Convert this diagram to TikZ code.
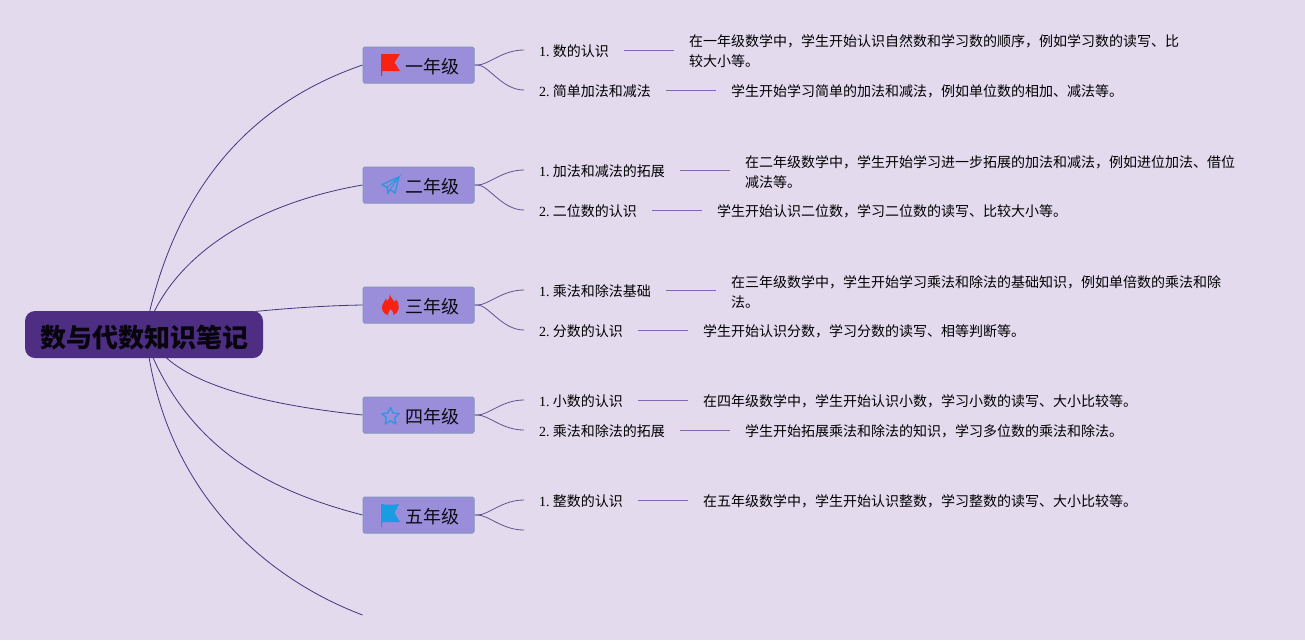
\documentclass[tikz,border=0pt]{standalone}
\usepackage{fontspec}
\setmainfont{Liberation Serif}
\newfontfamily\cjk{Noto Sans CJK SC}
\definecolor{bgc}{HTML}{E3DAEE}
\definecolor{rootc}{HTML}{4D2E83}
\definecolor{boxc}{HTML}{9A8DD9}
\definecolor{boxb}{HTML}{7F97BE}
\definecolor{linec}{HTML}{43367F}
\definecolor{sidec}{HTML}{7C69B2}
\definecolor{flagr}{HTML}{F5230F}
\definecolor{iconb}{HTML}{2E96E3}
\definecolor{flagb}{HTML}{189CE2}
\tikzset{
  x=1pt,y=-1pt,
  rootbox/.style={draw=none,fill=rootc,rounded corners=10pt,minimum width=238pt,minimum height=47pt,inner sep=0pt,text=black!90!rootc,font=\cjk\bfseries\fontsize{26}{30}\selectfont},
  gradebox/.style={draw=boxb,line width=1pt,fill=boxc,rounded corners=1.5pt,minimum width=111pt,minimum height=36pt,inner sep=0pt,font=\cjk\fontsize{18}{22}\selectfont,text=black!92!boxc},
  lab/.style={anchor=west,inner xsep=15pt,inner ysep=0pt,minimum height=14pt,text=black,font=\fontsize{14}{20}\selectfont},
  desc/.style={anchor=west,inner xsep=15pt,inner ysep=0pt,align=left,text=black,font=\cjk\fontsize{14}{20}\selectfont},
  mainl/.style={draw=linec,line width=0.8pt},
  subl/.style={draw=linec!85!white,line width=0.8pt},
  sidel/.style={draw=sidec,line width=1pt},
}
\newcommand{\lb}[2]{\raisebox{-6.6pt}[0pt][0pt]{#1.\hspace{3.2pt}{\cjk #2}\hspace{0.2pt}}}
\newcommand{\gtxt}[1]{\hspace*{27pt}\raisebox{-8.5pt}[0pt][0pt]{#1}}
\begin{document}
\begin{tikzpicture}
\useasboundingbox (0,0) rectangle (1305,640);
\fill[bgc] (0,0) rectangle (1305,640);

% root and grade boxes
\node[rootbox] (root) at (144,334.5) {\raisebox{-12.5pt}[0pt][0pt]{数与代数知识笔记}};
\node[gradebox] (g1) at (418.5,65)  {\gtxt{一年级}};
\node[gradebox] (g2) at (418.5,185) {\gtxt{二年级}};
\node[gradebox] (g3) at (418.5,305) {\gtxt{三年级}};
\node[gradebox] (g4) at (418.5,415) {\gtxt{四年级}};
\node[gradebox] (g5) at (418.5,515) {\gtxt{五年级}};

% anchors on the root
\coordinate (rt) at (149.5,312);
\coordinate (rs) at (154,312);
\coordinate (rr) at (255,311.5);
\coordinate (rb) at (149,357);
\coordinate (rm) at (152.7,357);
\coordinate (rc) at (166,357.5);
\coordinate (free6) at (362.5,615);
\coordinate (free5) at (524,530);

\path[mainl] (rt) .. controls (185,165) and (270,97) .. (g1.west);
\path[mainl] (rs) .. controls (190,240) and (275,200) .. (g2.west);
\path[mainl] (rr) .. controls (290,308) and (330,305.5) .. (g3.west);
\path[mainl] (rc) .. controls (205,393) and (295,408) .. (g4.west);
\path[mainl] (rm) .. controls (198,458) and (282,494) .. (g5.west);
\path[mainl] (rb) .. controls (172,495) and (265,578) .. (free6);

% level two
\node[lab] (a1) at (524,50)  {\lb{1}{数的认识}};
\node[lab] (a2) at (524,90)  {\lb{2}{简单加法和减法}};
\node[lab] (b1) at (524,170) {\lb{1}{加法和减法的拓展}};
\node[lab] (b2) at (524,210) {\lb{2}{二位数的认识}};
\node[lab] (c1) at (524,290) {\lb{1}{乘法和除法基础}};
\node[lab] (c2) at (524,330) {\lb{2}{分数的认识}};
\node[lab] (d1) at (524,400) {\lb{1}{小数的认识}};
\node[lab] (d2) at (524,430) {\lb{2}{乘法和除法的拓展}};
\node[lab] (e1) at (524,500) {\lb{1}{整数的认识}};

% level three
\node[desc] (ta1) at (674,51.5) {在一年级数学中，学生开始认识自然数和学习数的顺序，例如学习数的读写、比\\较大小等。};
\node[desc] (ta2) at (716,91.5) {学生开始学习简单的加法和减法，例如单位数的相加、减法等。};
\node[desc] (tb1) at (730,172.5) {在二年级数学中，学生开始学习进一步拓展的加法和减法，例如进位加法、借位\\减法等。};
\node[desc] (tb2) at (702,211.5) {学生开始认识二位数，学习二位数的读写、比较大小等。};
\node[desc] (tc1) at (716,292.5) {在三年级数学中，学生开始学习乘法和除法的基础知识，例如单倍数的乘法和除\\法。};
\node[desc] (tc2) at (688,331.5) {学生开始认识分数，学习分数的读写、相等判断等。};
\node[desc] (td1) at (688,401.5) {在四年级数学中，学生开始认识小数，学习小数的读写、大小比较等。};
\node[desc] (td2) at (730,431.5) {学生开始拓展乘法和除法的知识，学习多位数的乘法和除法。};
\node[desc] (te1) at (688,501.5) {在五年级数学中，学生开始认识整数，学习整数的读写、大小比较等。};

% branches
\foreach \g/\t in {g1/a1,g1/a2,g2/b1,g2/b2,g3/c1,g3/c2,g4/d1,g4/d2,g5/e1}{
  \path[subl] (\g.east) -- ++(3,0) .. controls +(11,0) and +(-22,0) .. (\t.west);
}
\path[subl] (g5.east) -- ++(3,0) .. controls +(11,0) and +(-22,0) .. (free5);
\foreach \a/\b in {a1/ta1,a2/ta2,b1/tb1,b2/tb2,c1/tc1,c2/tc2,d1/td1,d2/td2,e1/te1}{
  \path[sidel] (\a.east) -- (\a.east -| \b.west);
}

% icons
\begin{scope}[shift={(381,54)}]
  \fill[flagr] (0,0) -- (19,0) -- (13.5,8.5) -- (19,17) -- (1,17) -- (1,22) -- (0,22) -- cycle;
\end{scope}
\begin{scope}[shift={(381,504)}]
  \fill[flagb] (0,0) .. controls (6,1) and (12,1) .. (18,0) -- (13.5,9) -- (19,18) -- (1,18) -- (1,23) -- (0,23) -- cycle;
\end{scope}
\begin{scope}[shift={(382,177)}]
  \draw[iconb,line width=1.4pt,line join=round] (0,7.5) -- (17,0) -- (13,16) -- (8,12.5) -- (6,16.5) -- (5,10.5) -- cycle;
  \draw[iconb,line width=1pt] (5,10.5) -- (17,0) -- (8,12.5);
\end{scope}
\begin{scope}[shift={(382,294)}]
  \fill[flagr] (8,0) .. controls (8.5,4) and (11,5) .. (12.5,8) .. controls (13.5,7.5) and (14,6.5) .. (14,5.5)
     .. controls (16.5,8) and (17,12) .. (16.5,15) .. controls (15.8,18) and (14,20) .. (11.5,21)
     .. controls (12.5,18.5) and (10.5,17.5) .. (8.5,15) .. controls (7.5,17.5) and (5.5,18.5) .. (6,21)
     .. controls (3,20.5) and (0,17.5) .. (0,13.5) .. controls (0,9.5) and (3,8) .. (4,4.5) .. controls (4.5,5.5) and (5,6) .. (5.2,7.5) .. controls (7,5) and (8,2.5) .. (8,0) -- cycle;
\end{scope}
\begin{scope}[shift={(390.5,416.5)}]
  \draw[iconb,line width=1.3pt,line join=round]
    (-90:9.2) -- (-54:4.3) -- (-18:9.2) -- (18:4.3) -- (54:9.2) -- (90:4.3) -- (126:9.2) -- (162:4.3) -- (198:9.2) -- (234:4.3) -- cycle;
\end{scope}
\end{tikzpicture}
\end{document}
